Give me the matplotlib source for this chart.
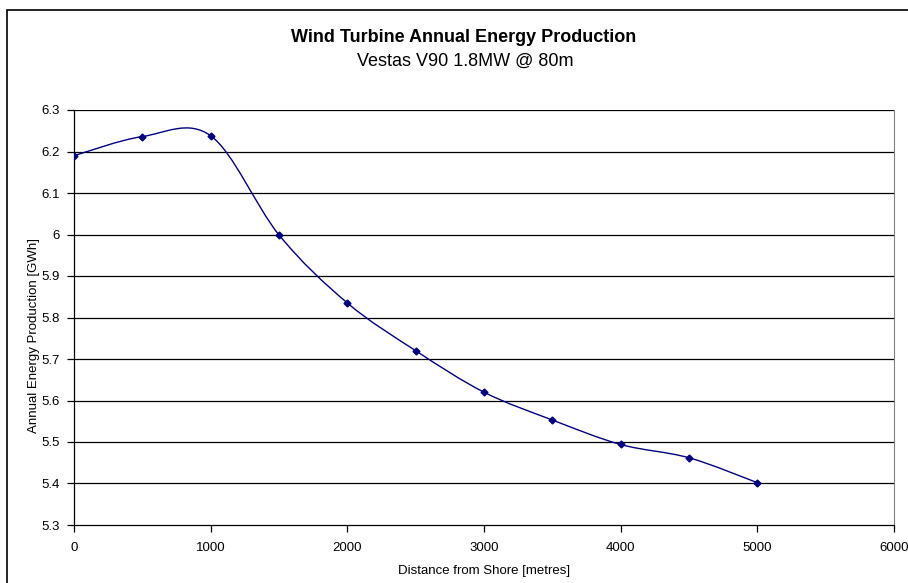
import numpy as np
import matplotlib.pyplot as plt
from matplotlib.path import Path
from matplotlib.patches import PathPatch, Rectangle

plt.rcParams['font.family'] = ['Liberation Sans', 'DejaVu Sans']

distance = [0, 500, 1000, 1500, 2000, 2500, 3000, 3500, 4000, 4500, 5000]
energy = [6.19, 6.236, 6.238, 5.999, 5.835, 5.72, 5.62, 5.553, 5.494, 5.462, 5.402]
x_ticks = [0, 1000, 2000, 3000, 4000, 5000, 6000]
y_ticks = [5.3, 5.4, 5.5, 5.6, 5.7, 5.8, 5.9, 6.0, 6.1, 6.2, 6.3]
y_labels = ['5.3', '5.4', '5.5', '5.6', '5.7', '5.8', '5.9', '6', '6.1', '6.2', '6.3']

navy = '#000080'


def smooth_path(xs, ys):
    # Excel-like smoothed line: cubic bezier segments through each point
    pts = np.column_stack([xs, ys]).astype(float)
    n = len(pts)
    verts = [pts[0]]
    codes = [Path.MOVETO]
    for i in range(n - 1):
        p0 = pts[i - 1] if i > 0 else pts[i]
        p1 = pts[i]
        p2 = pts[i + 1]
        p3 = pts[i + 2] if i + 2 < n else pts[i + 1]
        c1 = p1 + (p2 - p0) / 6.0
        c2 = p2 - (p3 - p1) / 6.0
        verts += [c1, c2, p2]
        codes += [Path.CURVE4] * 3
    return Path(verts, codes)


fig = plt.figure(figsize=(9.08, 5.83), dpi=100)
ax = fig.add_axes([74 / 908, 1 - 525 / 583, 820 / 908, 415 / 583])

# outer chart frame (runs off the right and bottom edges)
fig.patches.append(Rectangle((7 / 908, -0.2), 1.2, 1.2 - 10 / 583, transform=fig.transFigure,
                             fill=False, edgecolor='black', linewidth=1.2))

for yv in y_ticks[1:]:
    ax.axhline(yv, color='black', linewidth=0.9, zorder=1)

ax.add_patch(PathPatch(smooth_path(distance, energy), fill=False, edgecolor=navy,
                       linewidth=1.0, zorder=3))
ax.plot(distance, energy, linestyle='none', marker='D', markersize=3.5,
        color=navy, zorder=4)

ax.set_xlim(0, 6000)
ax.set_ylim(5.3, 6.3)
ax.set_xticks(x_ticks)
ax.set_yticks(y_ticks)
ax.set_yticklabels(y_labels)
ax.tick_params(direction='out', length=5, width=0.9, labelsize=9.5, colors='black')
ax.tick_params(axis='x', pad=7)
ax.tick_params(axis='y', pad=5)
ax.spines['top'].set_visible(False)
ax.spines['right'].set_color('#808080')
for s in ['left', 'bottom']:
    ax.spines[s].set_linewidth(0.9)

ax.set_xlabel('Distance from Shore [metres]', fontsize=9.5, va='center')
ax.xaxis.set_label_coords(0.5, -46 / 415)
ax.set_ylabel('Annual Energy Production [GWh]', fontsize=9.5, va='center')
ax.yaxis.set_label_coords(-40 / 820, 190 / 415)

fig.text(464 / 908, 1 - 38 / 583, 'Wind Turbine Annual Energy Production', ha='center',
         va='center', fontsize=13, fontweight='bold')
fig.text(465 / 908, 1 - 61 / 583, 'Vestas V90 1.8MW @ 80m', ha='center', va='center',
         fontsize=13)

fig.savefig('out.png', dpi=100)
